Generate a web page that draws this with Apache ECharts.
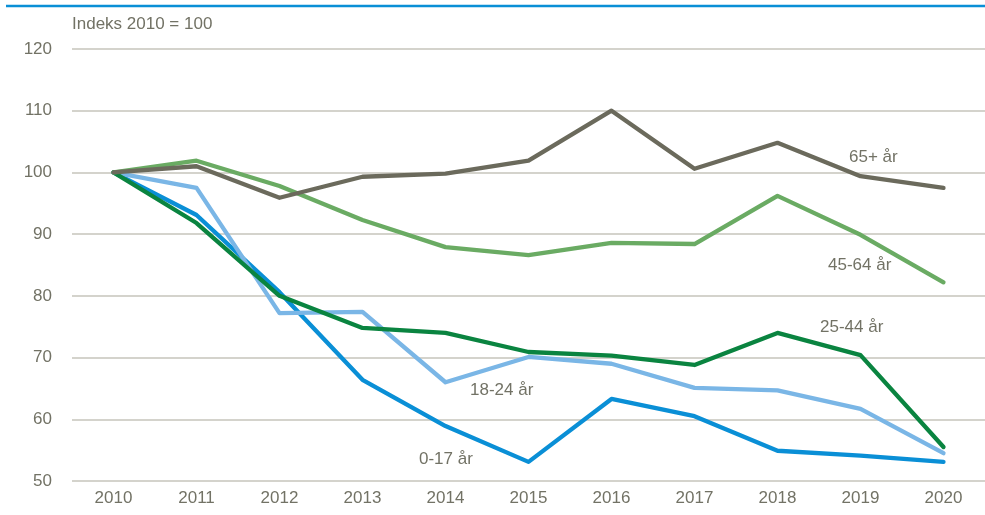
<!DOCTYPE html>
<html><head><meta charset="utf-8">
<script src="https://cdn.jsdelivr.net/npm/echarts@6/dist/echarts.min.js"></script>
<style>html,body{margin:0;padding:0;background:#fff}#c{width:985px;height:515px}</style>
</head><body><div id="c"></div>
<script>
const years = ['2010','2011','2012','2013','2014','2015','2016','2017','2018','2019','2020'];
const s65 = [100, 101, 95.9, 99.3, 99.8, 101.9, 110, 100.6, 104.8, 99.4, 97.5];
const s45 = [100, 101.9, 97.8, 92.3, 87.9, 86.6, 88.6, 88.4, 96.2, 89.9, 82.2];
const s25 = [100, 91.8, 80, 74.8, 74, 70.9, 70.3, 68.8, 74, 70.4, 55.5];
const s18 = [100, 97.5, 77.2, 77.4, 66, 70.1, 69, 65.1, 64.7, 61.7, 54.5];
const s0 = [100, 93.1, 80.6, 66.4, 58.9, 53.1, 63.3, 60.5, 54.9, 54.1, 53.1];
const yTicks = [50, 60, 70, 80, 90, 100, 110, 120];

const txt = '#727265';
const font = '"Liberation Sans", Arial, sans-serif';
const chart = echarts.init(document.getElementById('c'), null, {renderer:'canvas'});
function ser(name, data, color, z){
  return {name, type:'line', data, symbol:'none', z,
    lineStyle:{width:4.3, color, cap:'round', join:'round'}, itemStyle:{color}};
}
function lab(text, x, y){
  return {type:'text', left:x, top:y, style:{text, fill:txt, font:'17px ' + font}};
}
chart.setOption({
  animation:false,
  grid:{left:72, right:-9, top:49, bottom:34},
  xAxis:{type:'category', data:years, boundaryGap:true,
    axisLine:{show:false}, axisTick:{show:false},
    axisLabel:{color:txt, fontFamily:font, fontSize:17, margin:9}},
  yAxis:{type:'value', min:yTicks[0], max:yTicks[yTicks.length-1], interval:10,
    axisLine:{show:false}, axisTick:{show:false},
    splitLine:{lineStyle:{color:'#c6c4bb', width:1.5}},
    axisLabel:{color:txt, fontFamily:font, fontSize:17, margin:20}},
  series:[
    ser('65+ år', s65, '#6b6a5c', 5),
    ser('45-64 år', s45, '#6aab63', 4),
    ser('18-24 år', s18, '#7ab6e6', 2),
    ser('0-17 år', s0, '#0a8fd6', 1),
    ser('25-44 år', s25, '#0a8440', 3)
  ],
  graphic:[
    {type:'line', shape:{x1:6, y1:6, x2:985, y2:6}, style:{stroke:'#0a8fd6', lineWidth:2.5}},
    lab('Indeks 2010 = 100', 72, 16),
    lab('65+ år', 849, 149),
    lab('45-64 år', 828, 257),
    lab('25-44 år', 820, 319),
    lab('18-24 år', 470, 382),
    lab('0-17 år', 419, 451)
  ]
});
</script></body></html>
